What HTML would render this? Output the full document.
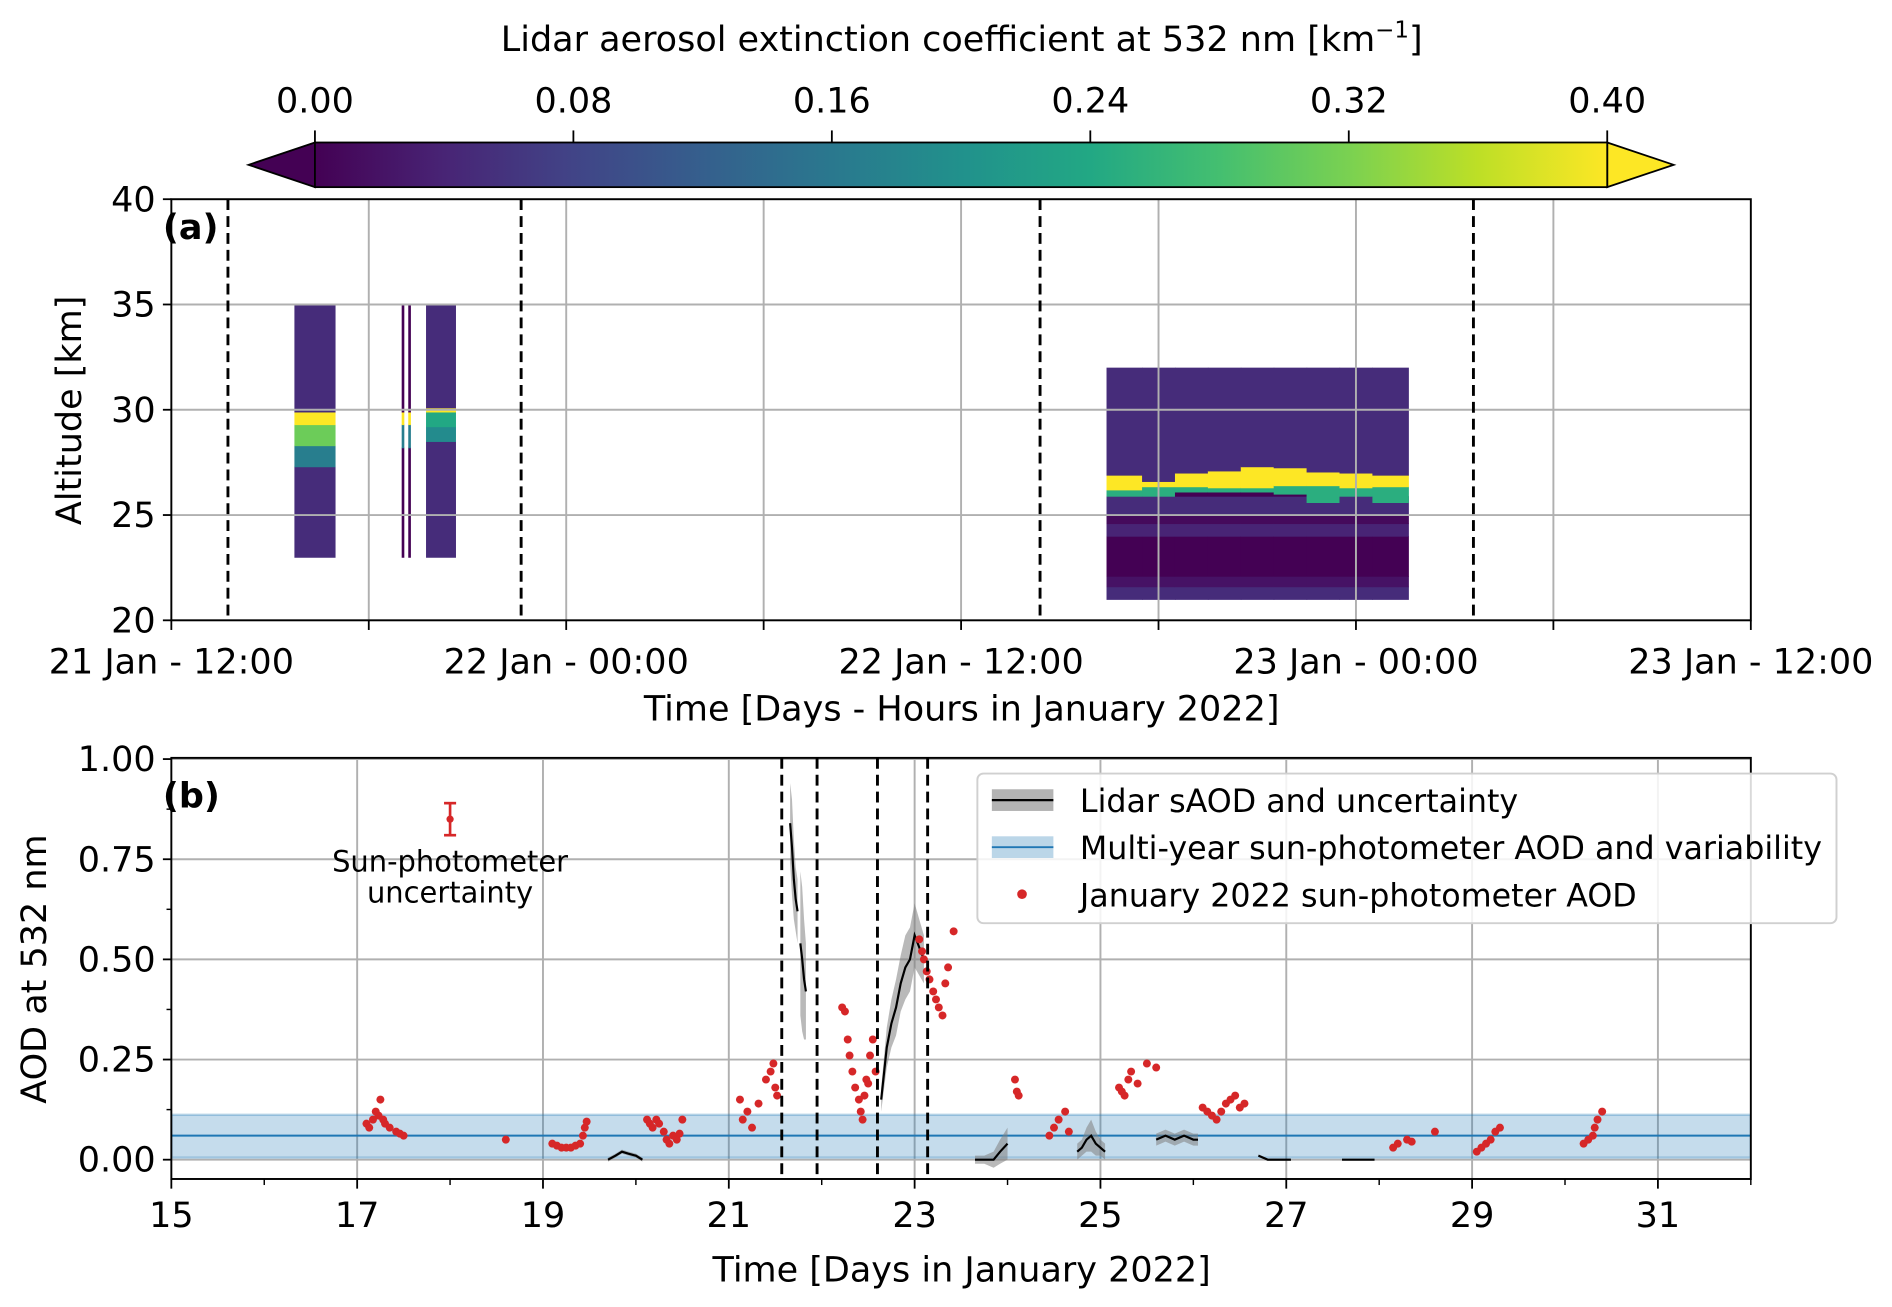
<!DOCTYPE html>
<html><head><meta charset="utf-8"><style>
html,body{margin:0;padding:0;background:#fff;}
svg{display:block;font-family:"DejaVu Sans","Liberation Sans",sans-serif;}
</style></head><body>
<svg id="fig" width="1892" height="1307" viewBox="0 0 1568 1083" xmlns="http://www.w3.org/2000/svg">
<defs>
<linearGradient id="vir" x1="0" x2="1" y1="0" y2="0">
<stop offset="0" stop-color="#440154"/><stop offset="0.1" stop-color="#482475"/><stop offset="0.2" stop-color="#414487"/><stop offset="0.3" stop-color="#355f8d"/><stop offset="0.4" stop-color="#2a788e"/><stop offset="0.5" stop-color="#21918c"/><stop offset="0.6" stop-color="#22a884"/><stop offset="0.7" stop-color="#44bf70"/><stop offset="0.8" stop-color="#7ad151"/><stop offset="0.9" stop-color="#bddf26"/><stop offset="1" stop-color="#fde725"/>
</linearGradient>
<clipPath id="clipA"><rect x="142" y="165" width="1309" height="349"/></clipPath>
<clipPath id="clipB"><rect x="142" y="628" width="1309" height="349"/></clipPath>
</defs>
<g id="cbar">
<text x="797" y="42" font-size="29" text-anchor="middle">Lidar aerosol extinction coefficient at 532 nm [km<tspan dy="-11" font-size="19">−1</tspan><tspan dy="11">]</tspan></text>
<polygon points="261,118 206,136.5 261,155" fill="#440154" stroke="#000" stroke-width="1.5"/>
<polygon points="1332,118 1387,136.5 1332,155" fill="#fde725" stroke="#000" stroke-width="1.5"/>
<rect x="261" y="118" width="1071" height="37" fill="url(#vir)" stroke="#000" stroke-width="1.5"/>
</g>
<g id="panelA"></g>
<g id="panelB"></g>
</svg>
<script>
// ---------- Colorbar ----------
const cbTicks = [0.00, 0.08, 0.16, 0.24, 0.32, 0.40];
// ---------- Panel (a) data: hours since 21 Jan 12:00 ----------
const aXTickHours = [0, 12, 24, 36, 48];
const aXTickLabels = ["21 Jan - 12:00", "22 Jan - 00:00", "22 Jan - 12:00", "23 Jan - 00:00", "23 Jan - 12:00"];
const aGridHours = [6, 12, 18, 24, 30, 36, 42];
const aYTicks = [20, 25, 30, 35, 40];
const aDashHours = [1.72, 10.63, 26.4, 39.57];
const blockStart = [3.74, 7.0, 7.2, 7.74];
const blockEnd = [4.99, 7.08, 7.28, 8.65];
const blockAlts = [
  [23, 27.3, 28.3, 29.3, 29.9, 35],
  [23, 28.2, 29.3, 29.9, 35],
  [23, 28.2, 29.3, 29.9, 35],
  [23, 28.5, 29.2, 29.9, 30.1, 35]
];
const blockVals = [
  [0.05, 0.17, 0.31, 0.40, 0.05],
  [0.0, 0.17, 0.40, 0.0],
  [0.0, 0.17, 0.40, 0.0],
  [0.05, 0.19, 0.24, 0.40, 0.05]
];
const b3Times = [28.42, 29.5, 30.5, 31.5, 32.5, 33.5, 34.5, 35.5, 36.5, 37.59];
const b3YellowBot = [26.2, 26.35, 26.35, 26.3, 26.3, 26.4, 26.4, 26.3, 26.35];
const b3YellowTop = [26.9, 26.6, 27.0, 27.1, 27.3, 27.25, 27.05, 27.0, 26.9];
const b3GreenBot = [25.9, 25.9, 26.1, 26.1, 26.1, 26.0, 25.6, 25.9, 25.6];
const b3Layers = [21, 21.6, 22.1, 24.0, 24.6, 25.0, 25.9];
const b3LayerVals = [0.05, 0.02, 0.0, 0.04, 0.01, 0.05];
const b3UpperVal = 0.05;
// ---------- Panel (b) data: day of January 2022 ----------
const bXTicks = [15, 17, 19, 21, 23, 25, 27, 29, 31];
const bYTicks = [0.00, 0.25, 0.50, 0.75, 1.00];
const bDash = [21.57, 21.95, 22.60, 23.14];
const climMean = 0.06, climLow = 0.005, climHigh = 0.112;
const photDays = [17.1,17.13,17.17,17.2,17.23,17.25,17.28,17.3,17.35,17.42,17.46,17.5,
 18.6,
 19.1,19.15,19.2,19.25,19.3,19.35,19.4,19.43,19.45,19.47,
 20.12,20.15,20.18,20.22,20.25,20.3,20.33,20.36,20.4,20.44,20.47,20.5,
 21.12,21.15,21.2,21.25,21.32,21.4,21.45,21.48,21.5,21.52,
 22.22,22.25,22.28,22.3,22.33,22.36,22.4,22.42,22.44,22.46,22.48,22.52,22.55,22.58,22.5,
 23.05,23.08,23.1,23.13,23.16,23.2,23.23,23.26,23.3,23.33,23.36,23.42,
 24.08,24.1,24.12,24.45,24.5,24.55,24.62,24.66,
 25.2,25.23,25.26,25.3,25.33,25.4,25.5,25.6,
 26.1,26.15,26.2,26.25,26.3,26.35,26.4,26.45,26.5,26.55,
 28.15,28.2,28.3,28.35,28.6,
 29.05,29.1,29.15,29.2,29.25,29.3,
 30.2,30.25,30.3,30.32,30.35,30.4];
const photAOD = [0.09,0.08,0.10,0.12,0.11,0.15,0.10,0.09,0.08,0.07,0.065,0.06,
 0.05,
 0.04,0.035,0.03,0.03,0.03,0.035,0.04,0.06,0.08,0.095,
 0.10,0.09,0.08,0.10,0.09,0.07,0.05,0.04,0.06,0.05,0.065,0.10,
 0.15,0.10,0.12,0.08,0.14,0.20,0.22,0.24,0.18,0.16,
 0.38,0.37,0.30,0.26,0.22,0.18,0.15,0.12,0.10,0.16,0.20,0.26,0.30,0.22,0.19,
 0.55,0.52,0.50,0.47,0.45,0.42,0.40,0.38,0.36,0.44,0.48,0.57,
 0.20,0.17,0.16,0.06,0.08,0.10,0.12,0.07,
 0.18,0.17,0.16,0.20,0.22,0.19,0.24,0.23,
 0.13,0.12,0.11,0.10,0.12,0.14,0.15,0.16,0.13,0.14,
 0.03,0.04,0.05,0.045,0.07,
 0.02,0.03,0.04,0.05,0.07,0.08,
 0.04,0.05,0.06,0.08,0.10,0.12];
const lidDays = [
 [19.7,19.78,19.85,19.92,20.0,20.07],
 [21.66,21.68,21.70,21.72,21.74],
 [21.77,21.79,21.81,21.83],
 [22.64,22.7,22.75,22.8,22.85,22.9,22.95,23.0,23.05,23.1],
 [23.65,23.75,23.85,23.92,24.0],
 [24.75,24.8,24.85,24.9,24.95,25.0,25.05],
 [25.6,25.7,25.8,25.9,26.0,26.05],
 [26.7,26.8,26.9,27.0,27.05],
 [27.6,27.75,27.95]
];
const lidAOD = [
 [0.0,0.01,0.02,0.015,0.01,0.0],
 [0.84,0.78,0.70,0.65,0.62],
 [0.54,0.50,0.45,0.42],
 [0.15,0.28,0.34,0.38,0.44,0.48,0.50,0.56,0.53,0.50],
 [0.0,0.0,0.0,0.02,0.04],
 [0.02,0.03,0.05,0.06,0.04,0.03,0.02],
 [0.05,0.06,0.05,0.06,0.05,0.05],
 [0.01,0.0,0.0,0.0,0.0],
 [0.0,0.0,0.0]
];
const lidUnc = [
 [0.005,0.005,0.005,0.005,0.005,0.005],
 [0.1,0.12,0.1,0.08,0.08],
 [0.18,0.18,0.15,0.12],
 [0.03,0.05,0.06,0.07,0.07,0.08,0.08,0.08,0.07,0.06],
 [0.01,0.01,0.02,0.03,0.04],
 [0.02,0.02,0.03,0.04,0.03,0.02,0.02],
 [0.015,0.015,0.015,0.015,0.015,0.015],
 [0.003,0.003,0.003,0.003,0.003],
 [0.002,0.002,0.002]
];
const errBarDay = 18.0, errBarVal = 0.85, errBarHalf = 0.04;

const NS = "http://www.w3.org/2000/svg";
function mk(parent, tag, attrs, text) {
  const e = document.createElementNS(NS, tag);
  for (const k in attrs) e.setAttribute(k, attrs[k]);
  if (text !== undefined) e.textContent = text;
  parent.appendChild(e);
  return e;
}
const VIR = ["#440154","#482475","#414487","#355f8d","#2a788e","#21918c","#22a884","#44bf70","#7ad151","#bddf26","#fde725"];
function hex(c){return [parseInt(c.substr(1,2),16),parseInt(c.substr(3,2),16),parseInt(c.substr(5,2),16)];}
function viridis(v) {
  let t = Math.max(0, Math.min(1, v / 0.4)) * 10;
  const i = Math.min(9, Math.floor(t)); const f = t - i;
  const a = hex(VIR[i]), b = hex(VIR[i + 1]);
  return "rgb(" + a.map((x, k) => Math.round(x + (b[k] - x) * f)).join(",") + ")";
}
const FS = 29;
const DASH = {stroke: "#000", "stroke-width": 2.4, "stroke-dasharray": "9,5"};
const cbX = v => 261 + v / 0.4 * 1071;
const aX = h => 142 + h / 48 * 1309;
const aY = z => 514 - (z - 20) / 20 * 349;
const bX = d => 142 + (d - 15) / 17 * 1309;
const bY = v => 961 - v * 332;

const cbar = document.getElementById("cbar");
cbTicks.forEach(v => {
  const l = mk(cbar, "line", {x1: cbX(v), x2: cbX(v), y1: 118, y2: 108, stroke: "#000", "stroke-width": 1.5});
  
  
  const t = mk(cbar, "text", {x: cbX(v), y: 93, "font-size": FS, "text-anchor": "middle"}, v.toFixed(2));
  
  
});

const pa = document.getElementById("panelA");
const gA = mk(pa, "g", {"clip-path": "url(#clipA)"});


blockStart.forEach((s, i) => {
  const alts = blockAlts[i], vals = blockVals[i];
  for (let k = 0; k < vals.length; k++) {
    const r = mk(gA, "rect", {x: aX(s), width: aX(blockEnd[i]) - aX(s), y: aY(alts[k + 1]), height: aY(alts[k]) - aY(alts[k + 1]) + 0.5, fill: viridis(vals[k])});
    
    
  }
});
for (let c = 0; c < b3Times.length - 1; c++) {
  const x0 = aX(b3Times[c]), w = aX(b3Times[c + 1]) - x0 + 0.5;
  for (let k = 0; k < b3LayerVals.length; k++) {
    const r = mk(gA, "rect", {x: x0, width: w, y: aY(b3Layers[k + 1]), height: aY(b3Layers[k]) - aY(b3Layers[k + 1]) + 0.5, fill: viridis(b3LayerVals[k])});
    
    
  }
  const segs = [[b3Layers[b3Layers.length - 1], b3GreenBot[c], 0.0], [b3GreenBot[c], b3YellowBot[c], 0.25], [b3YellowBot[c], b3YellowTop[c], 0.42], [b3YellowTop[c], 32, b3UpperVal]];
  segs.forEach(sg => {
    if (sg[1] <= sg[0]) return;
    const r = mk(gA, "rect", {x: x0, width: w, y: aY(sg[1]), height: aY(sg[0]) - aY(sg[1]) + 0.5, fill: viridis(sg[2])});
    
    
  });
}
aGridHours.forEach(h => {
  const l = mk(gA, "line", {x1: aX(h), x2: aX(h), y1: 165, y2: 514, stroke: "#b0b0b0", "stroke-width": 1.6});
  
  
});
aYTicks.forEach(z => {
  const l = mk(gA, "line", {x1: 142, x2: 1451, y1: aY(z), y2: aY(z), stroke: "#b0b0b0", "stroke-width": 1.6});
  
  
});
aDashHours.forEach(h => {
  const l = mk(gA, "line", Object.assign({x1: aX(h), x2: aX(h), y1: 165, y2: 514}, DASH));
  
  
});
const frA = mk(pa, "rect", {x: 142, y: 165, width: 1309, height: 349, fill: "none", stroke: "#000", "stroke-width": 1.6});


aYTicks.forEach(z => {
  const l = mk(pa, "line", {x1: 135, x2: 142, y1: aY(z), y2: aY(z), stroke: "#000", "stroke-width": 1.5});
  
  
  const t = mk(pa, "text", {x: 129, y: aY(z) + 10, "font-size": FS, "text-anchor": "end"}, String(z));
  
  
});
[0,6,12,18,24,30,36,42,48].forEach(h => {
  const l = mk(pa, "line", {x1: aX(h), x2: aX(h), y1: 514, y2: 522, stroke: "#000", "stroke-width": 1.5});
  
  
});
aXTickHours.forEach((h, i) => {
  const t = mk(pa, "text", {x: aX(h), y: 558, "font-size": FS, "text-anchor": "middle"}, aXTickLabels[i]);
  
  
});
let t;
t = mk(pa, "text", {x: 797, y: 597, "font-size": FS, "text-anchor": "middle"}, "Time [Days - Hours in January 2022]");


t = mk(pa, "text", {x: 67, y: 340, "font-size": FS, "text-anchor": "middle", transform: "rotate(-90 67 340)"}, "Altitude [km]");


t = mk(pa, "text", {x: 135, y: 198, "font-size": FS, "font-weight": "bold"}, "(a)");



const pb = document.getElementById("panelB");
const gB = mk(pb, "g", {"clip-path": "url(#clipB)"});


bXTicks.forEach(d => {
  if (d === 15) return;
  const l = mk(gB, "line", {x1: bX(d), x2: bX(d), y1: 628, y2: 977, stroke: "#b0b0b0", "stroke-width": 1.6});
  
  
});
bYTicks.forEach(v => {
  const l = mk(gB, "line", {x1: 142, x2: 1451, y1: bY(v), y2: bY(v), stroke: "#b0b0b0", "stroke-width": 1.6});
  
  
});
let e = mk(gB, "rect", {x: 142, width: 1309, y: bY(climHigh), height: bY(climLow) - bY(climHigh), fill: "#1f77b4", "fill-opacity": 0.26, stroke: "#1f77b4", "stroke-opacity": 0.3, "stroke-width": 2});


e = mk(gB, "line", {x1: 142, x2: 1451, y1: bY(climMean), y2: bY(climMean), stroke: "#1f77b4", "stroke-width": 1.6});


lidDays.forEach((ds, s) => {
  const up = ds.map((d, i) => bX(d) + "," + bY(lidAOD[s][i] + lidUnc[s][i]));
  const dn = ds.map((d, i) => bX(d) + "," + bY(lidAOD[s][i] - lidUnc[s][i])).reverse();
  const p = mk(gB, "polygon", {points: up.concat(dn).join(" "), fill: "#808080", "fill-opacity": 0.55});
  
  
  const l = mk(gB, "polyline", {points: ds.map((d, i) => bX(d) + "," + bY(lidAOD[s][i])).join(" "), fill: "none", stroke: "#000", "stroke-width": 1.8});
  
  
});
photDays.forEach((d, i) => {
  const c = mk(gB, "circle", {cx: bX(d), cy: bY(photAOD[i]), r: 3.3, fill: "#d62728"});
  
  
});
bDash.forEach(d => {
  const l = mk(gB, "line", Object.assign({x1: bX(d), x2: bX(d), y1: 628, y2: 977}, DASH));
  
  
});
const eg = mk(pb, "g", {});


const ex = bX(errBarDay);
mk(eg, "line", {x1: ex, x2: ex, y1: bY(errBarVal + errBarHalf), y2: bY(errBarVal - errBarHalf), stroke: "#d62728", "stroke-width": 2.2});
mk(eg, "line", {x1: ex - 5, x2: ex + 5, y1: bY(errBarVal + errBarHalf), y2: bY(errBarVal + errBarHalf), stroke: "#d62728", "stroke-width": 2.2});
mk(eg, "line", {x1: ex - 5, x2: ex + 5, y1: bY(errBarVal - errBarHalf), y2: bY(errBarVal - errBarHalf), stroke: "#d62728", "stroke-width": 2.2});
mk(eg, "circle", {cx: ex, cy: bY(errBarVal), r: 3, fill: "#d62728"});
t = mk(pb, "text", {x: ex, y: 722, "font-size": 24, "text-anchor": "middle"}, "Sun-photometer");


t = mk(pb, "text", {x: ex, y: 748, "font-size": 24, "text-anchor": "middle"}, "uncertainty");


const frB = mk(pb, "rect", {x: 142, y: 628, width: 1309, height: 349, fill: "none", stroke: "#000", "stroke-width": 1.6});


bYTicks.forEach(v => {
  const l = mk(pb, "line", {x1: 135, x2: 142, y1: bY(v), y2: bY(v), stroke: "#000", "stroke-width": 1.5});
  
  
  const tt = mk(pb, "text", {x: 129, y: bY(v) + 10, "font-size": FS, "text-anchor": "end"}, v.toFixed(2));
  
  
});
[0.125, 0.375, 0.625, 0.875].forEach(v => {
  const l = mk(pb, "line", {x1: 138, x2: 142, y1: bY(v), y2: bY(v), stroke: "#000", "stroke-width": 1.2});
  
  
});
bXTicks.forEach(d => {
  const l = mk(pb, "line", {x1: bX(d), x2: bX(d), y1: 977, y2: 985, stroke: "#000", "stroke-width": 1.5});
  
  
  const tt = mk(pb, "text", {x: bX(d), y: 1017, "font-size": FS, "text-anchor": "middle"}, String(d));
  
  
});
[16,18,20,22,24,26,28,30,32].forEach(d => {
  const l = mk(pb, "line", {x1: bX(d), x2: bX(d), y1: 977, y2: 982, stroke: "#000", "stroke-width": 1.2});
  
  
});
t = mk(pb, "text", {x: 797, y: 1062, "font-size": FS, "text-anchor": "middle"}, "Time [Days in January 2022]");


t = mk(pb, "text", {x: 38, y: 803, "font-size": FS, "text-anchor": "middle", transform: "rotate(-90 38 803)"}, "AOD at 532 nm");


t = mk(pb, "text", {x: 135, y: 669, "font-size": FS, "font-weight": "bold"}, "(b)");


const lg = mk(pb, "g", {});


mk(lg, "rect", {x: 810, y: 641, width: 712, height: 124, rx: 5, fill: "#fff", "fill-opacity": 0.85, stroke: "#d0d0d0", "stroke-width": 1.6});
mk(lg, "rect", {x: 822, y: 654, width: 51, height: 18, fill: "#808080", "fill-opacity": 0.6});
mk(lg, "line", {x1: 822, x2: 873, y1: 663, y2: 663, stroke: "#000", "stroke-width": 1.8});
mk(lg, "rect", {x: 822, y: 693, width: 51, height: 18, fill: "#1f77b4", "fill-opacity": 0.3});
mk(lg, "line", {x1: 822, x2: 873, y1: 702, y2: 702, stroke: "#1f77b4", "stroke-width": 1.6});
mk(lg, "circle", {cx: 847, cy: 741, r: 4, fill: "#d62728"});
const lgText = ["Lidar sAOD and uncertainty", "Multi-year sun-photometer AOD and variability", "January 2022 sun-photometer AOD"];
lgText.forEach((s, i) => {
  const tt = mk(lg, "text", {x: 895, y: 673 + i * 39, "font-size": 26.3}, s);
  
  
});
</script>
</body></html>
